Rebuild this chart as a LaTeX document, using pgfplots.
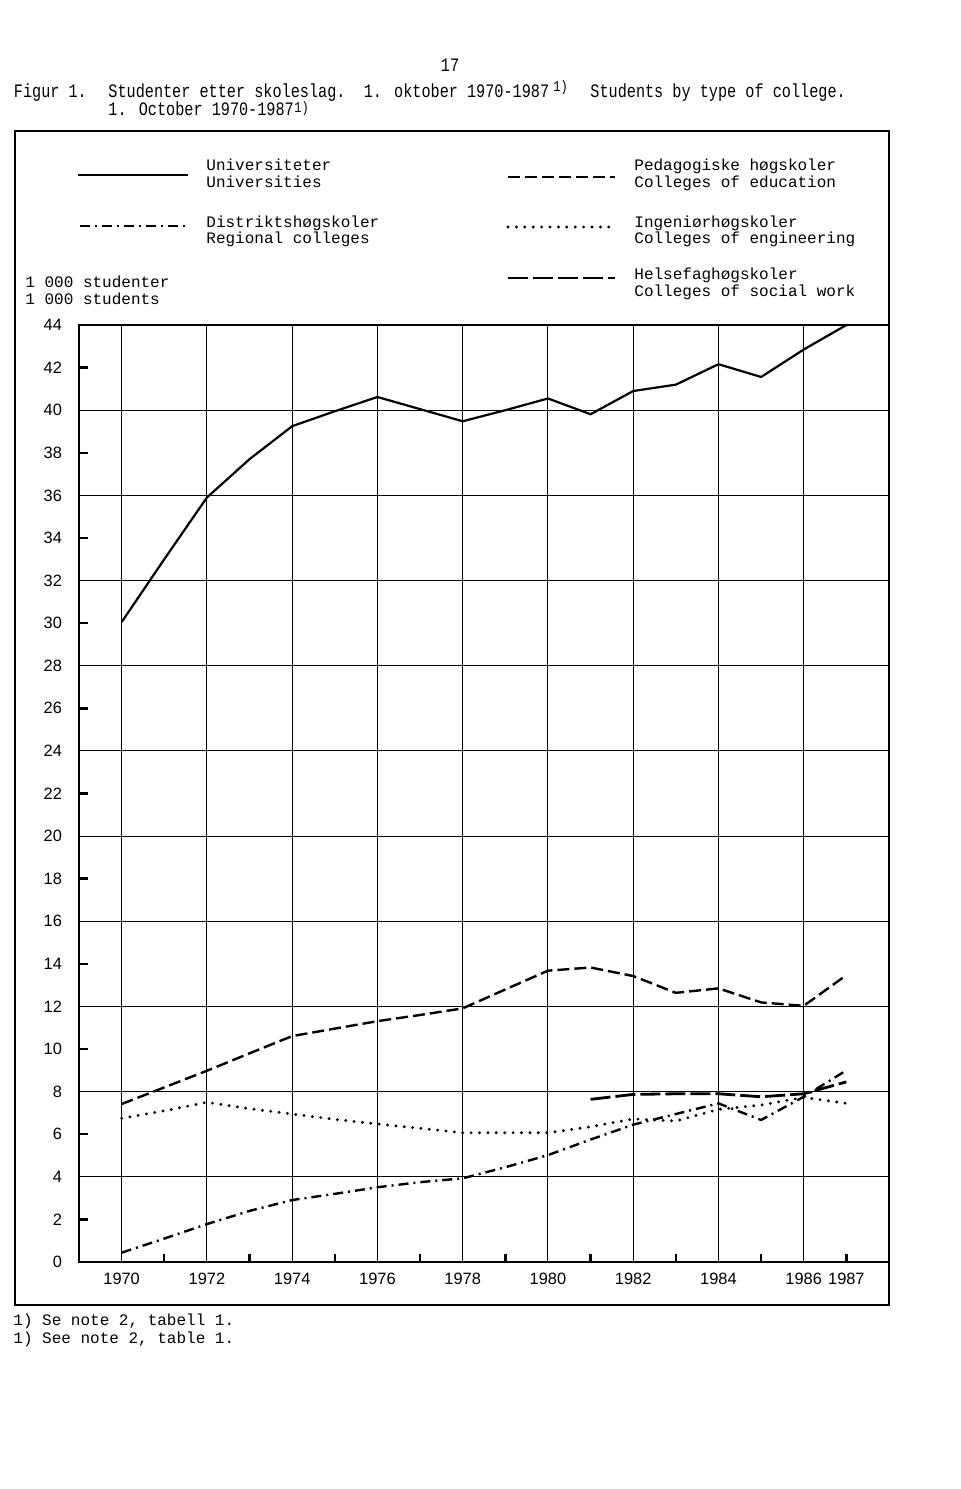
\documentclass[border=0pt]{standalone}
\usepackage{pgfplots}
\pgfplotsset{compat=1.18}
\usepackage{fontspec}
\setmainfont{Liberation Mono}
\newfontfamily\titlefont[FakeStretch=0.8]{Liberation Mono}
\newfontfamily\ticksfont{Liberation Sans}
\newcommand\tf{\titlefont\fontsize{9.5}{11}\selectfont}
\newcommand\supf{\titlefont\fontsize{7.5}{9}\selectfont}
\newcommand\lf{\fontsize{8}{10}\selectfont}
\begin{document}
\begin{tikzpicture}
\begin{scope}[x=0.5pt,y=-0.5pt]
\path[use as bounding box] (0,0) rectangle (960,1489);
\draw[line width=1.2pt] (15,131) rectangle (889,1305);
\node[anchor=base, font=\tf] at (450,71) {17};
\node[anchor=base west, font=\tf, inner sep=0pt] at (13.5,97) {Figur 1.};
\node[anchor=base west, font=\tf, inner sep=0pt] at (108,97) {Studenter etter skoleslag.\ \ 1. oktober 1970-1987};
\node[anchor=base west, font=\supf, inner sep=0pt] at (553,91) {1)};
\node[anchor=base west, font=\tf, inner sep=0pt] at (590,97) {Students by type of college.};
\node[anchor=base west, font=\tf, inner sep=0pt] at (108,115) {1. October 1970-1987};
\node[anchor=base west, font=\supf, inner sep=0pt] at (294,112) {1)};
% legend samples
\draw[line width=1.1pt] (78,175) -- (188,175);
\draw[line width=1.2pt, dash pattern=on 6pt off 2.5pt] (508,177) -- (615,177);
\draw[line width=1.2pt, dash pattern=on 5pt off 2.5pt on 1pt off 2.5pt] (80,226) -- (188,226);
\draw[line width=1.6pt, line cap=round, dash pattern=on 0pt off 4.2pt] (508,227) -- (615,227);
\draw[line width=1.4pt, dash pattern=on 10pt off 2.5pt] (508,278) -- (615,278);
\node[anchor=base west, font=\lf, inner sep=0pt] at (206,170) {Universiteter};
\node[anchor=base west, font=\lf, inner sep=0pt] at (206,187) {Universities};
\node[anchor=base west, font=\lf, inner sep=0pt] at (634,170) {Pedagogiske høgskoler};
\node[anchor=base west, font=\lf, inner sep=0pt] at (634,187) {Colleges of education};
\node[anchor=base west, font=\lf, inner sep=0pt] at (206,227) {Distriktshøgskoler};
\node[anchor=base west, font=\lf, inner sep=0pt] at (206,243) {Regional colleges};
\node[anchor=base west, font=\lf, inner sep=0pt] at (634,227) {Ingeniørhøgskoler};
\node[anchor=base west, font=\lf, inner sep=0pt] at (634,243) {Colleges of engineering};
\node[anchor=base west, font=\lf, inner sep=0pt] at (634,279) {Helsefaghøgskoler};
\node[anchor=base west, font=\lf, inner sep=0pt] at (634,296) {Colleges of social work};
\node[anchor=base west, font=\lf, inner sep=0pt] at (25,287) {1 000 studenter};
\node[anchor=base west, font=\lf, inner sep=0pt] at (25,304) {1 000 students};
\node[anchor=base west, font=\lf, inner sep=0pt] at (13,1325) {1) Se note 2, tabell 1.};
\node[anchor=base west, font=\lf, inner sep=0pt] at (13,1343) {1) See note 2, table 1.};
\end{scope}
\begin{axis}[
  at={(39.5pt,-631pt)}, anchor=south west,
  scale only axis, width=405pt, height=468.5pt,
  xmin=1969, xmax=1988, ymin=0, ymax=44,
  clip=false,
  axis line style={line width=0.6pt},
  xtick={1970,1972,...,1986},
  xticklabels={1970,1972,1974,1976,1978,1980,1982,1984,1986},
  extra x ticks={1987}, extra x tick labels={1987},
  extra x tick style={grid=none, major tick length=0pt},
  minor xtick={1971,1973,...,1987},
  ytick={0,4,...,44},
  extra y ticks={2,6,...,42},
  extra y tick style={grid=none, major tick length=4.5pt, major tick style={line width=1.2pt, black}},
  grid=major, major grid style={line width=0.5pt, black},
  xtick pos=bottom, ytick pos=left, tick align=inside,
  major tick length=0pt, minor tick length=4pt,
  minor tick style={line width=1.2pt, black},
  /pgf/number format/assume math mode=true,
  tick label style={font=\ticksfont\fontsize{8.2}{10}\selectfont},
  yticklabel style={xshift=-5pt},
  xticklabel style={yshift=-2pt},
]
\addplot[black, line width=1.1pt] coordinates {
(1970,30.05) (1971,33.0) (1972,35.9) (1973,37.7) (1974,39.25) (1975,39.95) (1976,40.62) (1977,40.05) (1978,39.48) (1979,40.0) (1980,40.55) (1981,39.81) (1982,40.9) (1983,41.2) (1984,42.16) (1985,41.56) (1986,42.85) (1987,44.0)};
\addplot[black, line width=1.2pt, dash pattern=on 6pt off 2.5pt] coordinates {
(1970,7.42) (1971,8.2) (1972,8.98) (1973,9.8) (1974,10.61) (1975,10.96) (1976,11.31) (1977,11.6) (1978,11.91) (1979,12.8) (1980,13.68) (1981,13.83) (1982,13.43) (1983,12.64) (1984,12.85) (1985,12.19) (1986,12.03) (1987,13.47)};
\addplot[black, line width=1.2pt, dash pattern=on 5pt off 2.5pt on 1pt off 2.5pt] coordinates {
(1970,0.44) (1971,1.1) (1972,1.78) (1973,2.4) (1974,2.91) (1975,3.2) (1976,3.51) (1977,3.75) (1978,3.93) (1979,4.45) (1980,5.02) (1981,5.75) (1982,6.45) (1983,6.95) (1984,7.45) (1985,6.67) (1986,7.76) (1987,9.0)};
\addplot[black, line width=1.6pt, line cap=round, dash pattern=on 0pt off 4.2pt] coordinates {
(1970,6.75) (1971,7.1) (1972,7.5) (1973,7.2) (1974,6.95) (1975,6.7) (1976,6.48) (1977,6.28) (1978,6.07) (1979,6.07) (1980,6.07) (1981,6.35) (1982,6.72) (1983,6.62) (1984,7.17) (1985,7.37) (1986,7.73) (1987,7.45)};
\addplot[black, line width=1.4pt, dash pattern=on 10pt off 2.5pt] coordinates {
(1981,7.64) (1982,7.87) (1983,7.9) (1984,7.9) (1985,7.76) (1986,7.9) (1987,8.46)};
\end{axis}
\end{tikzpicture}
\end{document}
